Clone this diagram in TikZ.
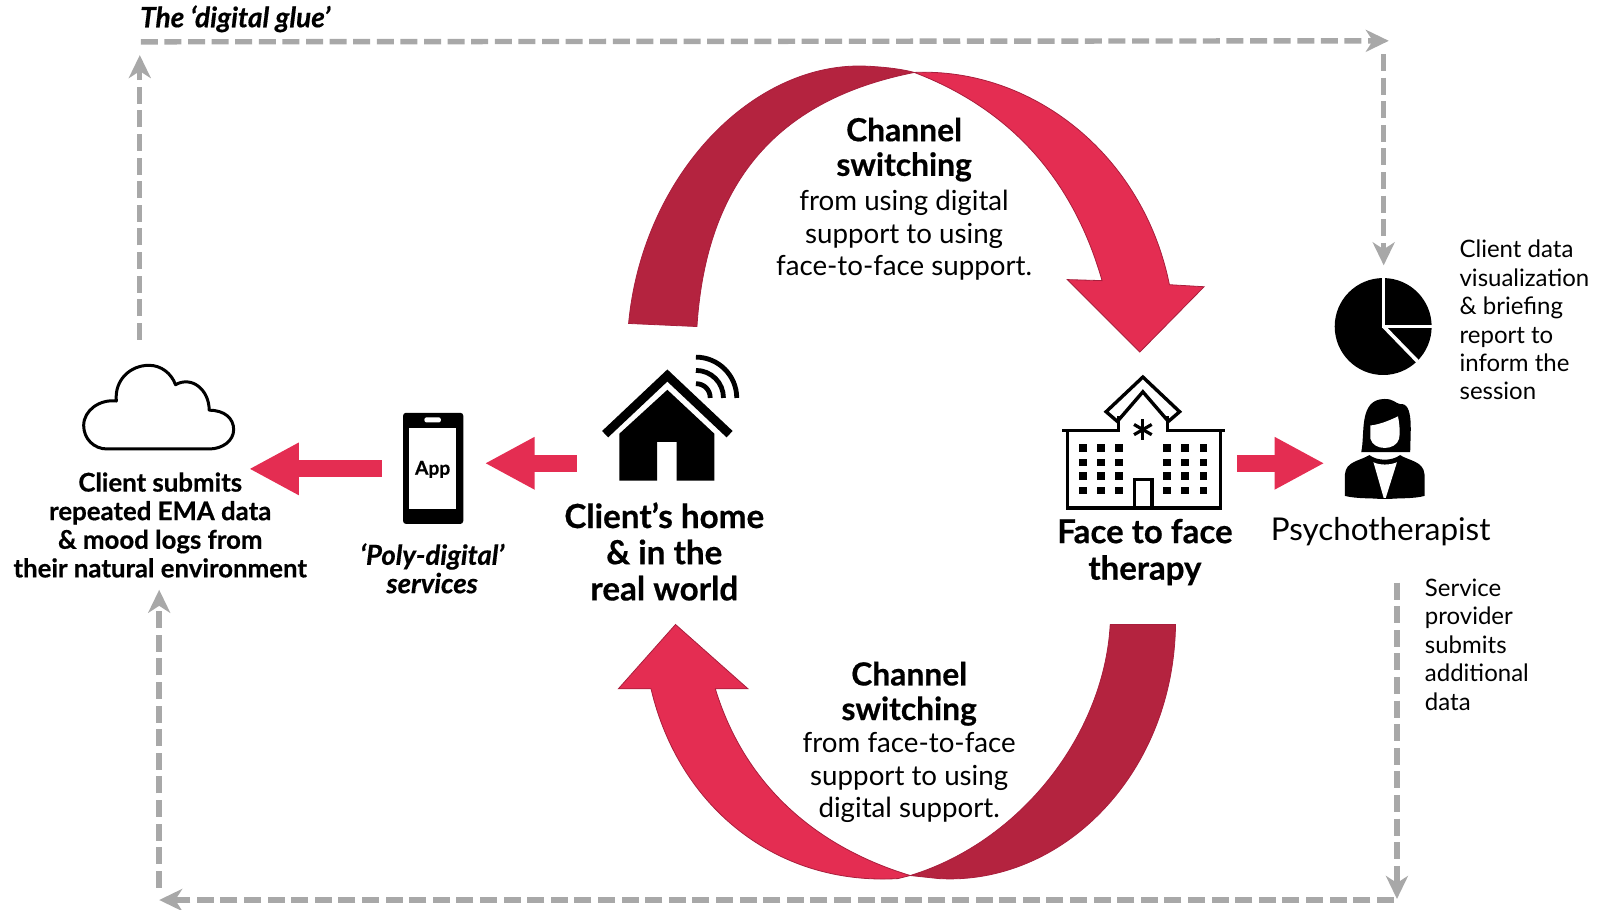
\documentclass[tikz,border=0pt]{standalone}
\usepackage{fontspec}
\setmainfont{Lato}[BoldFeatures={FakeBold=0.5},BoldItalicFeatures={FakeBold=0.5}]
\usepackage{xcolor}
\usepackage{tikz}
\usetikzlibrary{arrows.meta,positioning,calc}
\definecolor{crimson}{HTML}{E42D52}
\definecolor{darkcrimson}{HTML}{B4233F}
\definecolor{edgered}{HTML}{A81E3C}
\definecolor{glue}{HTML}{A8A8A8}
\begin{document}
\begin{tikzpicture}[x=0.5102pt,y=-0.5102pt,iconbox/.style={inner sep=0pt,outer sep=0pt},lbl/.style={align=center,inner sep=0pt,font=\fontsize{16.6}{18.1}\selectfont\bfseries},lblsmall/.style={align=center,inner sep=0pt,font=\fontsize{12.9}{14.3}\selectfont\bfseries},plain/.style={align=left,inner sep=0pt,font=\fontsize{12}{14.2}\selectfont},chan/.style={align=center,inner sep=0pt,font=\fontsize{13.85}{16.3}\selectfont},gluearr/.style={draw=glue,line width=2.7pt,dash pattern=on 8.5pt off 3.3pt,-{Stealth[length=11.5pt,width=11pt,inset=3.5pt]}},redarr/.style={draw=crimson,line width=8.6pt,-{Triangle[length=25pt,width=24.5pt]}},bandback/.style={fill=darkcrimson,draw=edgered,line width=0.4pt},bandfront/.style={fill=crimson,draw=edgered,line width=0.4pt}]
\useasboundingbox (0,0) rectangle (1568,891);
% icon places
\node[iconbox,minimum width=76pt,minimum height=42pt] (cloud) at (155.5,399) {};
\node[iconbox,minimum width=30pt,minimum height=56pt] (phone) at (424.5,459) {};
\node[iconbox,minimum width=66pt,minimum height=62pt] (home) at (654,410) {};
\node[iconbox,minimum width=82pt,minimum height=67pt] (hospital) at (1120,434) {};
\node[iconbox,minimum width=48pt,minimum height=48pt] (pie) at (1355,320) {};
\node[iconbox,minimum width=40pt,minimum height=50pt] (person) at (1357,440) {};
% curved channel arrows
\fill[bandback] (616,317) .. controls (630,170) and (740,58) .. (852,65) .. controls (870,66) and (885,68) .. (896,71) .. controls (775,95) and (693,165) .. (683,320) -- cycle;
\fill[bandfront] (896,71) .. controls (1010,66) and (1120,150) .. (1146,279) -- (1180,281) -- (1117,345) -- (1046,274) -- (1080,275) .. controls (1050,170) and (985,105) .. (896,71) -- cycle;
\fill[bandback] (1088,612) -- (1152,612) .. controls (1150,760) and (1040,868) .. (920,861) -- (892,858) .. controls (1000,825) and (1082,720) .. (1088,612) -- cycle;
\fill[bandfront] (662,612) -- (733,675) -- (701,675) .. controls (730,770) and (800,830) .. (892,858) -- (880,861) .. controls (760,868) and (665,790) .. (638,675) -- (606,675) -- cycle;
% cloud
\draw[line width=1.5pt,line join=round] (105,440) .. controls (92,440) and (82,430) .. (82,417) .. controls (82,402) and (98,391) .. (114,393) .. controls (112,372) and (128,358) .. (146,358) .. controls (158,358) and (168,366) .. (172,377) .. controls (188,368) and (205,382) .. (205,402) .. controls (220,402) and (229,410) .. (229,421) .. controls (229,432) and (218,440) .. (205,440) -- cycle;
% phone
\fill[rounded corners=1.5pt] (395,404.5) rectangle (454,513.5);
\fill[white] (401,419) rectangle (447,499);
\fill[white,rounded corners=1pt] (416,409) rectangle (432,414);
\node[font=\fontsize{9.6}{11}\selectfont\bfseries,inner sep=0pt] (applbl) at (424,460) {App};
% house
\fill (607,425) -- (654,382) -- (700,425) -- (700,471) -- (663,471) -- (663,433) -- (644,433) -- (644,471) -- (607,471) -- cycle;
\draw[line width=4.4pt,miter limit=10] (593,425.5) -- (654,368) -- (715,425.5);
\foreach \rr/\cc in {40/22,27/15,14/8}{\draw[line width=2.4pt] ($(682,390)+(0,-\rr)$) .. controls ($(682,390)+(\cc,-\rr)$) and ($(682,390)+(\rr,-\cc)$) .. ($(682,390)+(\rr,0)$);}
% hospital
\draw[line width=1.7pt] (1096,408) -- (1096,422) -- (1041,422);
\draw[line width=1.7pt] (1144,408) -- (1144,422) -- (1200,422);
\draw[line width=1.7pt] (1046,422) -- (1046,498) -- (1196,498) -- (1196,422);
\draw[line width=1.7pt,line join=miter] (1120,369.5) -- (1156,403.5) -- (1145,413) -- (1120,384) -- (1095,413) -- (1084,403.5) -- cycle;
\foreach \wx in {1061.5,1079,1096.5,1143.5,1161.5,1179.5}{\foreach \wy in {439,453,466.5,480.5}{\fill (\wx-3.7,\wy-3.5) rectangle (\wx+3.7,\wy+3.5);}}
\draw[line width=1.7pt] (1112,498) -- (1112,470) -- (1129,470) -- (1129,498);
\foreach \aa in {90,30,150}{\draw[line width=1.6pt] ($(1120,421)+(\aa:10)$) -- ($(1120,421)+(\aa+180:10)$);}
% pie and therapist
\fill (1355.5,320) circle[radius=47.5];
\draw[white,line width=1.8pt] (1356,272) -- (1356,320) -- (1404,320);
\draw[white,line width=1.8pt] (1356,320) -- (1390,355);
\fill (1334,443) .. controls (1338,425) and (1331,391) .. (1357,391) .. controls (1366,391) and (1367,395) .. (1372,396) .. controls (1386,394) and (1382,425) .. (1382,443) -- cycle;
\fill[white] (1343,417) .. controls (1352,416) and (1362,412) .. (1370,408) .. controls (1372,418) and (1372,426) .. (1371,430) .. controls (1368,442) and (1346,442) .. (1343,430) -- cycle;
\fill (1318,486) -- (1318,465) .. controls (1319,452) and (1332,452) .. (1342,446) .. controls (1350,452) and (1364,452) .. (1372,446) .. controls (1382,452) and (1395,452) .. (1396,465) -- (1396,486) .. controls (1385,489) and (1370,488) .. (1362,489) -- (1352,489) .. controls (1345,488) and (1330,489) .. (1318,486) -- cycle;
\fill[white] (1346,453) .. controls (1352,456) and (1362,456) .. (1369,453) -- (1358,488) -- (1356,488) -- cycle;
% red arrows
\coordinate (cloudtip) at (244,459.5);
\coordinate (phoneout) at (374,459.5);
\draw[redarr] (phoneout) -- (cloudtip);
\coordinate (phonetip) at (475,454);
\coordinate (homeout) at (565,454);
\draw[redarr] (homeout) -- (phonetip);
\coordinate (hospout) at (1212,454);
\coordinate (persontip) at (1298,454);
\draw[redarr] (hospout) -- (persontip);
% digital glue
\coordinate (cloudtop) at (137,333);
\coordinate (tlup) at (137,54);
\coordinate (tlleft) at (138,41);
\coordinate (trright) at (1361,40);
\coordinate (trdown) at (1356,53);
\coordinate (pietop) at (1356,260);
\coordinate (psyout) at (1369,571);
\coordinate (brdown) at (1369,881);
\coordinate (brleft) at (1366,882);
\coordinate (blleft) at (156,882);
\coordinate (blup) at (156,870);
\coordinate (cloudlow) at (156,578);
\draw[gluearr] (cloudtop) -- (tlup);
\draw[gluearr] (tlleft) -- (trright);
\draw[gluearr] (trdown) -- (pietop);
\draw[gluearr] (psyout) -- (brdown);
\draw[gluearr] (brleft) -- (blleft);
\draw[gluearr] (blup) -- (cloudlow);
% labels
\node[font=\fontsize{14}{16}\selectfont\bfseries\itshape,inner sep=0pt,anchor=west] (gluelbl) at (137,18.5) {The ‘digital glue’};
\node[chan] (toplbl) at (886,195) {\fontsize{15.9}{16}\selectfont\bfseries Channel\\[1pt]\fontsize{15.9}{16}\selectfont\bfseries switching\\[1pt]\mdseries\fontsize{13.85}{16}\selectfont from using digital\\support to using\\face-to-face support.};
\node[chan] (botlbl) at (891,727.5) {\fontsize{15.9}{16}\selectfont\bfseries Channel\\[1pt]\fontsize{15.9}{16}\selectfont\bfseries switching\\[0pt]\mdseries\fontsize{13.85}{16}\selectfont from face-to-face\\support to using\\digital support.};
\node[lblsmall] (cloudlbl) at (157,514.5) {Client submits\\repeated EMA data\\\&~mood logs from\\their natural environment};
\node[lblsmall,font=\fontsize{13.76}{14.2}\selectfont\bfseries\itshape] (polylbl) at (423.5,557) {‘Poly-digital’\\services};
\node[lbl] (homelbl) at (651,540.5) {Client’s home\\\&~in the\\real world};
\node[lbl,font=\fontsize{16.5}{18.3}\selectfont\bfseries] (facelbl) at (1122,541) {Face to face\\therapy};
\node[inner sep=0pt,font=\fontsize{15.7}{19}\selectfont] (psylbl) at (1353,521) {Psychotherapist};
\node[plain,anchor=north west] (pielbl) at (1430,235) {Client data\\visualization\\\&~briefing\\report to\\inform the\\session};
\node[plain,anchor=north west] (svclbl) at (1396,567) {Service\\provider\\submits\\additional\\data};
\end{tikzpicture}
\end{document}
